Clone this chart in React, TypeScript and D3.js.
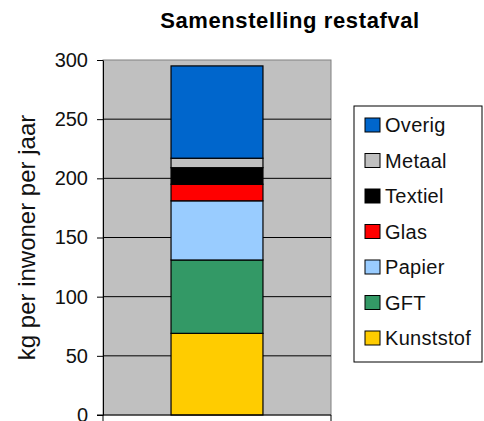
import React, { useRef, useEffect } from "react";
import * as d3 from "d3";

// waste categories, bottom to top of the stack
const categories = ["Kunststof", "GFT", "Papier", "Glas", "Textiel", "Metaal", "Overig"];
const values = [69, 62, 50, 14, 14, 8, 78];
const colors = ["#FFCC00", "#339966", "#99CCFF", "#FF0000", "#000000", "#C0C0C0", "#0066CC"];
const yTicks = [0, 50, 100, 150, 200, 250, 300];

const App = () => {
  const svgRef = useRef<SVGSVGElement>(null);

  useEffect(() => {
    if (!svgRef.current) return;
    const svg = d3.select(svgRef.current);
    svg.selectAll("*").remove();

    const width = 484;
    const height = 421;
    const marginLeft = 103;
    const plotRight = 331;
    const marginTop = 60;
    const plotBottom = 415;
    const font = "'Liberation Sans', Arial, sans-serif";

    svg.attr("width", width).attr("height", height).style("font-family", font);

    const y = d3.scaleLinear([0, 300], [plotBottom, marginTop]);
    const x = d3.scaleBand(["restafval"], [marginLeft, plotRight]).paddingInner(0).paddingOuter(0.74);

    // plot area
    svg
      .append("rect")
      .attr("x", marginLeft)
      .attr("y", marginTop)
      .attr("width", plotRight - marginLeft)
      .attr("height", plotBottom - marginTop)
      .attr("fill", "#C0C0C0")
      .attr("stroke", "#808080")
      .attr("stroke-width", 1);

    // gridlines
    svg
      .append("g")
      .selectAll("line")
      .data(yTicks.filter((t) => t > 0 && t < 300))
      .join("line")
      .attr("x1", marginLeft)
      .attr("x2", plotRight)
      .attr("y1", (d) => y(d))
      .attr("y2", (d) => y(d))
      .attr("stroke", "#000")
      .attr("stroke-width", 1);

    // stacked segments
    const stack: { cat: string; y0: number; y1: number; color: string }[] = [];
    let acc = 0;
    values.forEach((v, i) => {
      stack.push({ cat: categories[i], y0: acc, y1: acc + v, color: colors[i] });
      acc += v;
    });

    svg
      .append("g")
      .selectAll("rect")
      .data(stack)
      .join("rect")
      .attr("x", x("restafval")!)
      .attr("width", x.bandwidth())
      .attr("y", (d) => y(d.y1))
      .attr("height", (d) => y(d.y0) - y(d.y1))
      .attr("fill", (d) => d.color)
      .attr("stroke", "#000")
      .attr("stroke-width", 1.2);

    // y axis
    svg
      .append("g")
      .attr("transform", `translate(${marginLeft},0)`)
      .call(d3.axisLeft(y).tickValues(yTicks).tickSize(6).tickPadding(9).tickSizeOuter(0))
      .call((g) => g.select(".domain").attr("stroke", "#000"))
      .call((g) =>
        g
          .selectAll(".tick text")
          .attr("font-size", 20)
          .attr("font-family", font)
          .attr("fill", "#111")
      );

    // x axis
    svg
      .append("line")
      .attr("x1", marginLeft - 6)
      .attr("x2", plotRight)
      .attr("y1", plotBottom)
      .attr("y2", plotBottom)
      .attr("stroke", "#000");
    svg
      .append("g")
      .selectAll("line")
      .data([marginLeft, plotRight])
      .join("line")
      .attr("x1", (d) => d)
      .attr("x2", (d) => d)
      .attr("y1", plotBottom)
      .attr("y2", plotBottom + 6)
      .attr("stroke", "#000");

    // title
    svg
      .append("text")
      .attr("x", 290)
      .attr("y", 28)
      .attr("text-anchor", "middle")
      .attr("font-size", 22)
      .attr("font-weight", "bold")
      .attr("letter-spacing", 0.6)
      .text("Samenstelling restafval");

    // y axis title
    svg
      .append("text")
      .attr("transform", `translate(35,${(marginTop + plotBottom) / 2}) rotate(-90)`)
      .attr("text-anchor", "middle")
      .attr("font-size", 24)
      .attr("fill", "#111")
      .text("kg per inwoner per jaar");

    // legend
    const legend = svg.append("g");
    legend
      .append("rect")
      .attr("x", 354)
      .attr("y", 106)
      .attr("width", 128)
      .attr("height", 256)
      .attr("fill", "#fff")
      .attr("stroke", "#000");

    const items = stack.slice().reverse();
    const ly = d3.scalePoint(items.map((d) => d.cat), [125, 338]);
    const row = legend
      .selectAll("g")
      .data(items)
      .join("g")
      .attr("transform", (d) => `translate(365,${ly(d.cat)})`);
    row
      .append("rect")
      .attr("x", 0)
      .attr("y", -7)
      .attr("width", 15)
      .attr("height", 14)
      .attr("fill", (d) => d.color)
      .attr("stroke", "#000");
    row
      .append("text")
      .attr("x", 20)
      .attr("y", 0)
      .attr("dy", "0.36em")
      .attr("font-size", 20)
      .attr("letter-spacing", 0.3)
      .attr("fill", "#111")
      .text((d) => d.cat);
  }, []);

  return <svg ref={svgRef} style={{ position: "absolute", left: 0, top: 0 }}></svg>;
};

export default App;
